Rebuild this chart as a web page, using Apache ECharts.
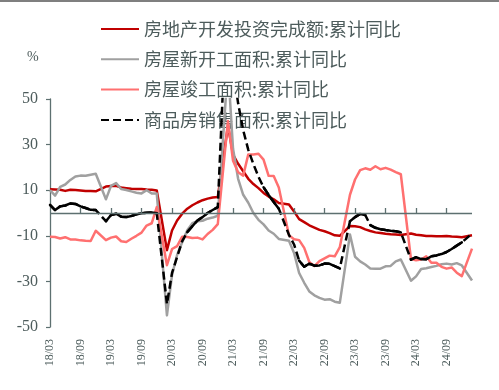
<!DOCTYPE html>
<html><head><meta charset="utf-8">
<script src="https://cdn.jsdelivr.net/npm/echarts@6/dist/echarts.min.js"></script>
<style>html,body{margin:0;padding:0;background:#fff}#c{width:499px;height:390px}</style>
</head><body><div id="c"></div>
<script>
// ---- categories (monthly, 2018/03 – 2025/02; January has no cumulative release) ----
const categories = [
  '18/03','18/04','18/05','18/06','18/07','18/08','18/09','18/10','18/11','18/12',
  '19/01','19/02','19/03','19/04','19/05','19/06','19/07','19/08','19/09','19/10','19/11','19/12',
  '20/01','20/02','20/03','20/04','20/05','20/06','20/07','20/08','20/09','20/10','20/11','20/12',
  '21/01','21/02','21/03','21/04','21/05','21/06','21/07','21/08','21/09','21/10','21/11','21/12',
  '22/01','22/02','22/03','22/04','22/05','22/06','22/07','22/08','22/09','22/10','22/11','22/12',
  '23/01','23/02','23/03','23/04','23/05','23/06','23/07','23/08','23/09','23/10','23/11','23/12',
  '24/01','24/02','24/03','24/04','24/05','24/06','24/07','24/08','24/09','24/10','24/11','24/12',
  '25/01','25/02'
];
// 房地产开发投资完成额:累计同比
const investment = [
  10.4,10.3,10.2,9.7,10.2,10.1,9.9,9.7,9.7,9.5,
  null,11.6,11.8,11.9,11.2,10.9,10.6,10.5,10.5,10.3,10.2,9.9,
  null,-16.3,-7.7,-3.3,-0.3,1.9,3.4,4.6,5.6,6.3,6.8,7.0,
  null,38.3,25.6,21.6,18.3,15.0,12.7,10.9,8.8,7.2,6.0,4.4,
  null,3.7,0.7,-2.7,-4.0,-5.4,-6.4,-7.4,-8.0,-8.8,-9.8,-10.0,
  null,-5.7,-5.8,-6.2,-7.2,-7.9,-8.5,-8.8,-9.1,-9.3,-9.4,-9.6,
  null,-9.0,-9.5,-9.8,-10.1,-10.1,-10.2,-10.2,-10.1,-10.3,-10.4,-10.6,
  null,-9.8
];
// 房屋新开工面积:累计同比
const newStarts = [
  10.0,7.6,11.5,12.5,14.5,16.0,16.4,16.3,16.8,17.2,
  null,6.0,11.9,13.1,10.5,10.1,9.5,8.9,8.6,10.0,8.6,8.5,
  null,-44.9,-27.2,-18.4,-12.8,-7.6,-4.5,-3.6,-3.4,-2.5,-2.0,-1.2,
  null,64.3,28.2,15.0,8.0,4.5,0.0,-3.0,-5.0,-7.7,-9.1,-11.4,
  null,-12.2,-17.5,-26.3,-30.6,-34.4,-36.1,-37.2,-38.0,-37.8,-38.9,-39.4,
  null,-9.4,-19.2,-21.2,-22.6,-24.3,-24.5,-24.4,-23.4,-23.2,-21.2,-20.4,
  null,-29.7,-27.8,-24.6,-24.2,-23.7,-23.2,-22.5,-22.2,-22.6,-22.0,-23.0,
  null,-29.6
];
// 房屋竣工面积:累计同比
const completions = [
  -10.4,-10.5,-11.2,-10.6,-11.6,-11.6,-12.0,-12.2,-12.3,-7.8,
  null,-11.9,-10.8,-10.3,-12.4,-12.7,-11.3,-10.0,-8.6,-5.5,-4.5,2.6,
  null,-22.9,-15.8,-14.5,-10.4,-10.5,-11.0,-10.8,-11.6,-9.2,-7.4,-4.9,
  null,40.4,22.9,17.9,16.4,25.7,25.7,26.0,23.4,16.3,16.2,11.2,
  null,-9.8,-11.5,-11.9,-15.3,-21.5,-23.3,-21.1,-19.9,-18.7,-19.0,-15.0,
  null,8.0,14.7,18.8,19.6,19.0,20.5,19.2,19.8,19.0,17.9,17.0,
  null,-20.2,-20.7,-20.4,-19.0,-21.8,-21.8,-23.6,-24.4,-23.9,-26.2,-27.7,
  null,-15.6
];
// 商品房销售面积:累计同比
const salesArea = [
  3.6,1.3,2.9,3.3,4.2,4.0,2.9,2.2,1.4,1.3,
  null,-3.6,-0.9,-0.3,-1.6,-1.8,-1.3,-0.6,-0.1,0.1,0.2,-0.1,
  null,-39.9,-26.3,-19.3,-12.3,-8.4,-5.8,-3.3,-1.8,0.0,1.3,2.6,
  null,104.9,63.8,48.1,36.3,27.7,21.5,15.9,11.3,7.9,4.8,1.9,
  null,-9.6,-13.8,-20.9,-23.6,-22.2,-23.1,-23.0,-22.2,-22.3,-23.3,-24.3,
  null,-3.6,-1.8,-0.4,-0.9,-5.3,-6.5,-7.1,-7.5,-7.8,-8.0,-8.5,
  null,-20.5,-19.4,-20.2,-20.3,-19.0,-18.6,-18.0,-17.1,-15.8,-14.3,-12.9,
  null,-9.0
];
const yTickLabels = [-50, -30, -10, 10, 30, 50];
const seriesNames = ['房地产开发投资完成额:累计同比','房屋新开工面积:累计同比','房屋竣工面积:累计同比','商品房销售面积:累计同比'];
const unitLabel = '%';

const axisColor = '#5d7070';
const textColor = '#4d5c5c';
const serif = 'Liberation Serif';
const labelEvery = 6;      // one x label / tick every 6 months
const tickLenUnits = 2.2;  // ≈5 px tick above the zero line

const yMin = yTickLabels[0], yMax = yTickLabels[yTickLabels.length - 1];

const chart = echarts.init(document.getElementById('c'), null, {renderer: 'canvas'});

function lineSeries(id, name, data, color, type) {
  return {
    id, name, type: 'line', data, connectNulls: true, symbol: 'none', smooth: false,
    lineStyle: {color, width: 2.5, type: type || 'solid', join: 'round'},
    itemStyle: {color}, z: 2, animation: false
  };
}

// zero axis line with upward ticks (drawn as a markLine on an empty helper series)
const zeroAxisMarks = [{yAxis: 0}];
for (let i = labelEvery; i < categories.length; i += labelEvery) {
  zeroAxisMarks.push([{coord: [categories[i], 0]}, {coord: [categories[i], tickLenUnits]}]);
}

const option = {
  animation: false,
  backgroundColor: '#fff',
  grid: {left: 50, right: 27, top: 99, bottom: 63, containLabel: false},
  legend: {
    data: seriesNames, orient: 'vertical', left: 95, top: 15,
    itemWidth: 38, itemHeight: 16, itemGap: 12.3, z: 1,
    itemStyle: {opacity: 0, borderWidth: 0},
    textStyle: {color: textColor, fontSize: 18, fontFamily: 'Noto Sans CJK SC', lineHeight: 16}
  },
  graphic: [
    {type: 'line', shape: {x1: 0, y1: 1, x2: 499, y2: 1}, style: {stroke: '#555', lineWidth: 1.5}},
    {type: 'text', left: 27, top: 50, style: {text: unitLabel, fill: textColor, font: '14px ' + serif}}
  ],
  xAxis: {
    type: 'category', data: categories, boundaryGap: false, position: 'bottom',
    axisLine: {show: false, onZero: false}, axisTick: {show: false}, splitLine: {show: false},
    axisLabel: {rotate: 90, interval: labelEvery - 1, color: textColor, fontSize: 12, fontFamily: serif, margin: 12}
  },
  yAxis: {
    type: 'value', min: yMin, max: yMax,
    interval: yTickLabels[1] - yTickLabels[0],
    axisLine: {show: true, onZero: false, lineStyle: {color: axisColor, width: 1.3}},
    axisTick: {show: true, length: 4, lineStyle: {color: axisColor, width: 1.2}},
    splitLine: {show: false},
    axisLabel: {color: textColor, fontSize: 16, fontFamily: serif, margin: 12}
  },
  series: [
    {
      id: 'zeroAxis', type: 'line', data: categories.map(() => null), symbol: 'none', z: 1,
      silent: true, animation: false,
      markLine: {
        silent: true, symbol: 'none', animation: false, precision: 2,
        label: {show: false},
        emphasis: {disabled: true},
        lineStyle: {color: axisColor, width: 1.3, type: 'solid'},
        data: zeroAxisMarks
      }
    },
    lineSeries('inv', seriesNames[0], investment, '#c00000'),
    lineSeries('starts', seriesNames[1], newStarts, '#a0a0a0'),
    lineSeries('compl', seriesNames[2], completions, '#ff7070'),
    lineSeries('sales', seriesNames[3], salesArea, '#000000', [8, 4])
  ]
};
chart.setOption(option);

// solid overlay on the short (gentle) segments of the sales line, as in the source rendering
const pts = [];
salesArea.forEach((v, i) => { if (v !== null) pts.push([i, v]); });
const runs = [];
let cur = null;
for (let k = 1; k < pts.length; k++) {
  const a = chart.convertToPixel({xAxisIndex: 0, yAxisIndex: 0}, pts[k - 1]);
  const b = chart.convertToPixel({xAxisIndex: 0, yAxisIndex: 0}, pts[k]);
  const L = Math.hypot(b[0] - a[0], b[1] - a[1]);
  if (L <= 9.5) {
    if (!cur) { cur = [pts[k - 1]]; runs.push(cur); }
    cur.push(pts[k]);
  } else {
    cur = null;
  }
}
chart.setOption({
  series: [{
    id: 'salesSolid',
    type: 'lines', coordinateSystem: 'cartesian2d', xAxisIndex: 0, yAxisIndex: 0,
    polyline: true, silent: true, z: 3,
    data: runs.map(r => ({coords: r})),
    lineStyle: {color: '#000000', width: 2.5, opacity: 1, cap: 'round', join: 'round'}
  }]
});
</script></body></html>
